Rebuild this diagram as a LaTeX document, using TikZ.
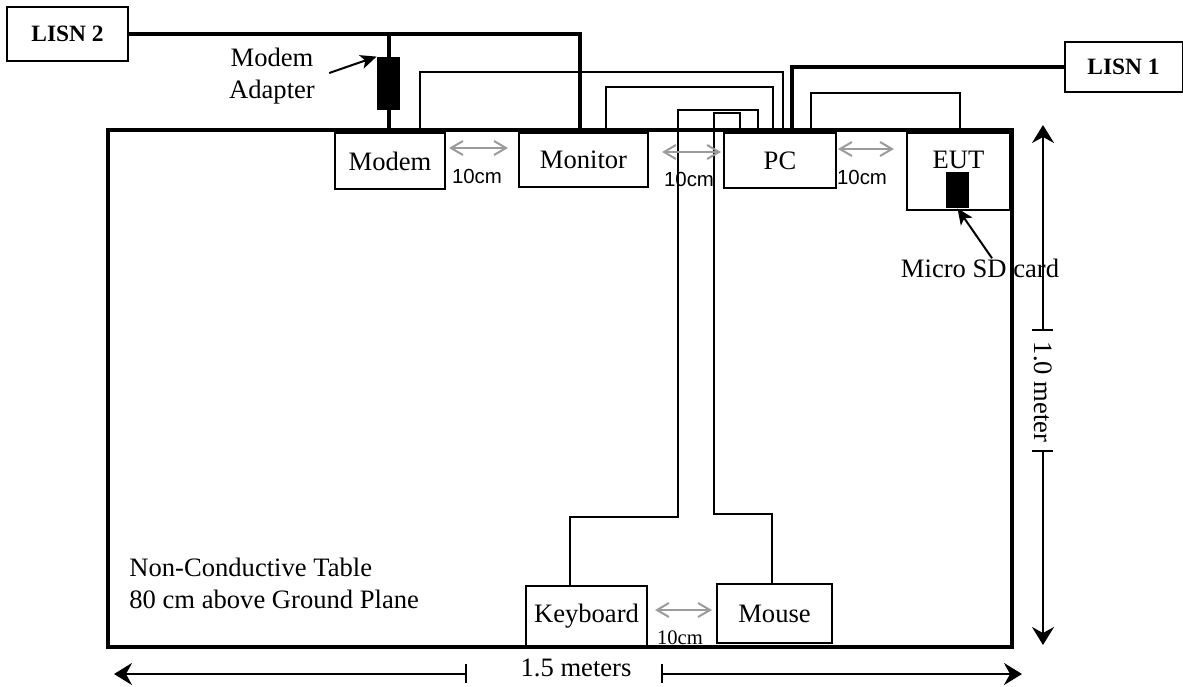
\documentclass[tikz,border=0pt]{standalone}
\usepackage{fontspec}
\setmainfont{Liberation Serif}
\newfontfamily\arialf{Liberation Sans}
\usetikzlibrary{arrows.meta}
\definecolor{gapgray}{RGB}{155,155,155}
\begin{document}
\begin{tikzpicture}[x=0.5pt,y=-0.5pt,
  mainfont/.style={font=\fontsize{13.3}{16}\selectfont},
  box/.style={draw, line width=1pt, fill=white, inner sep=0pt, mainfont},
  lisn/.style={draw, line width=1pt, fill=white, inner sep=0pt, font=\fontsize{11.7}{14}\selectfont\bfseries},
  blackbox/.style={fill=black, draw=none, inner sep=0pt},
  thincable/.style={line width=1.1pt},
  thickcable/.style={line width=2pt},
  gapline/.style={draw=gapgray, line width=1pt, {Straight Barb[length=6pt,width=7pt]}-{Straight Barb[length=6pt,width=7pt]}},
  gaptext/.style={font=\arialf\fontsize{10.2}{12}\selectfont, inner sep=0pt},
  blkarrow/.style={line width=1pt, -{Stealth[length=8pt,width=7pt,inset=2pt]}},
  dimarrow/.style={line width=1pt, -{Stealth[length=9pt,width=11pt,inset=3pt]}},
  dimtick/.style={line width=1pt}
]
\useasboundingbox (0,0) rectangle (1183,686);

% table
\node[draw, line width=2pt, minimum width=452pt, minimum height=258.5pt, inner sep=0pt] (table) at (560,388.5) {};

% devices
\node[lisn, minimum width=60.5pt, minimum height=27pt] (lisn2) at (67.5,34) {LISN 2};
\node[lisn, minimum width=59pt, minimum height=25pt] (lisn1) at (1123.5,67) {LISN 1};
\node[box, minimum width=55pt, minimum height=28pt] (modem) at (390,161) {Modem};
\node[box, minimum width=64.5pt, minimum height=27pt] (monitor) at (583.5,160) {Monitor};
\node[box, minimum width=56pt, minimum height=27.5pt] (pc) at (780,160.5) {PC};
\node[box, minimum width=51.5pt, minimum height=38.5pt] (eut) at (958.5,171.5) {};
\node[mainfont, inner sep=0pt] (euttext) at (958.5,160) {EUT};
\node[blackbox, minimum width=11.5pt, minimum height=18pt] (sd) at (957.5,190) {};
\node[box, minimum width=60.5pt, minimum height=30pt] (kb) at (586.5,616) {Keyboard};
\node[box, minimum width=57.5pt, minimum height=29.5pt] (mouse) at (774.5,613.5) {Mouse};
\node[blackbox, minimum width=11.5pt, minimum height=26.5pt] (adapter) at (388.5,83.5) {};

% labels
\node[mainfont, align=center, inner sep=0pt] (adlabel) at (272,76) {Modem\\Adapter};
\node[mainfont, inner sep=0pt] (sdlabel) at (980,268) {Micro SD card};
\node[mainfont, align=left, anchor=north west, inner sep=0pt] (tablelabel) at (129,558) {Non-Conductive Table\\80 cm above Ground Plane};

% power cables
\draw[thickcable] (lisn2.east) -| ([xshift=-1.75pt]monitor.north);
\draw[thickcable] (adapter.north |- lisn2.east) -- (adapter.south |- modem.north);
\draw[thickcable] ([xshift=6pt]pc.north) |- (lisn1.west);

% signal cables
\draw[thincable] ([xshift=15pt]modem.north) -- ++(0,-60) -| ([xshift=1.5pt]pc.north);
\draw[thincable] ([xshift=11.25pt]monitor.north) -- ++(0,-45) -| ([xshift=-3.5pt]pc.north);
\draw[thincable] ([xshift=-8.25pt]kb.north) |- (678,517) |- (758,110) -- ([xshift=-11pt]pc.north);
\draw[thincable] ([xshift=-1.25pt]mouse.north) |- (714,514) |- (740,113) -- ([xshift=-20pt]pc.north);
\draw[thincable] ([xshift=15.5pt]pc.north) -- ++(0,-39) -| ([xshift=0.75pt]eut.north);

% pointer arrows
\draw[blkarrow] ([shift={(7pt,1.5pt)}]adlabel.east) -- (adapter.north west);
\draw[blkarrow] ([xshift=6pt]sdlabel.north) -- (sd.south);

% 10 cm gaps
\draw[gapline] ([shift={(1.5pt,6.5pt)}]modem.east) -- ([shift={(-5pt,6pt)}]monitor.west);
\node[gaptext] (g1) at (477,176) {10cm};
\draw[gapline] ([shift={(6.5pt,4pt)}]monitor.east) -- ([shift={(-1pt,4.25pt)}]pc.west);
\node[gaptext] (g2) at (689,179) {10cm};
\draw[gapline] ([shift={(0.5pt,5.75pt)}]pc.east) -- ([shift={(-6pt,11.25pt)}]eut.west);
\node[gaptext] (g3) at (862,177) {10cm};
\draw[gapline] ([shift={(3.5pt,3pt)}]kb.east) -- ([shift={(-2pt,1.75pt)}]mouse.west);
\node[font=\fontsize{10.3}{12}\selectfont, inner sep=0pt] (g4) at (680,638) {10cm};

% dimensions
\coordinate (vtop) at (1043,125);
\coordinate (vbot) at (1043,645);
\coordinate (vt1) at (1043,330);
\coordinate (vt2) at (1043,451);
\node[mainfont, rotate=-90, inner sep=0pt] (vlabel) at (1043,392) {1.0 meter};
\draw[dimarrow] (vt1) -- (vtop);
\draw[dimarrow] (vt2) -- (vbot);
\draw[dimtick] ([xshift=-5.5pt]vt1) -- ([xshift=5pt]vt1);
\draw[dimtick] ([xshift=-5.5pt]vt2) -- ([xshift=5pt]vt2);

\coordinate (hleft) at (114,674);
\coordinate (hright) at (1022,674);
\coordinate (ht1) at (466,674);
\coordinate (ht2) at (662,674);
\node[mainfont, inner sep=0pt] (hlabel) at (576,668) {1.5 meters};
\draw[dimarrow] (ht1) -- (hleft);
\draw[dimarrow] (ht2) -- (hright);
\draw[dimtick] ([yshift=5pt]ht1) -- ([yshift=-4.5pt]ht1);
\draw[dimtick] ([yshift=5pt]ht2) -- ([yshift=-4.5pt]ht2);
\end{tikzpicture}
\end{document}
